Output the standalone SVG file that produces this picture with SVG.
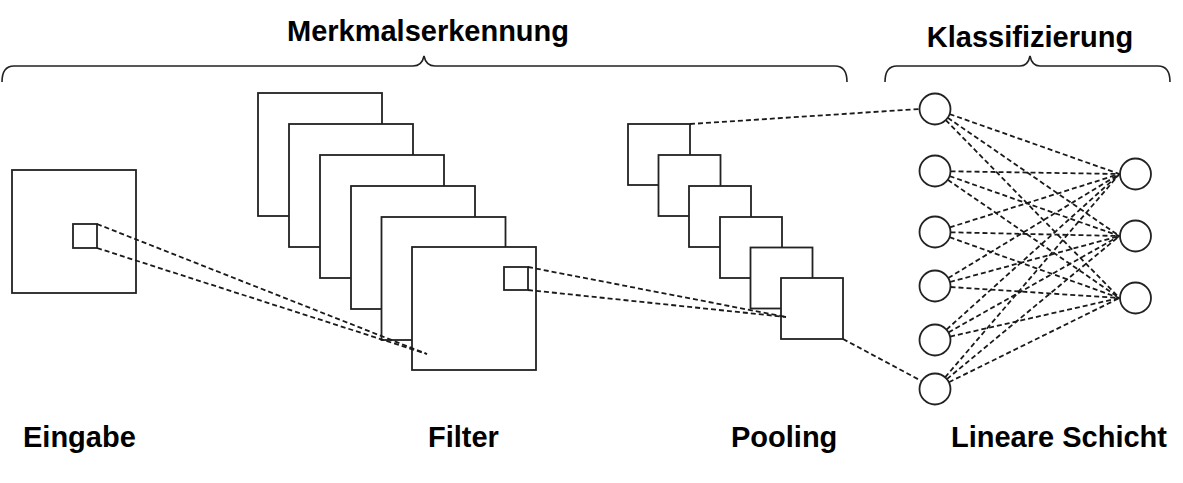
<svg xmlns="http://www.w3.org/2000/svg" width="1183" height="483" viewBox="0 0 1183 483">
<style>
  .box { fill: #ffffff; stroke: #222222; stroke-width: 1.8; }
  .node { fill: #ffffff; stroke: #222222; stroke-width: 1.8; }
  .dash { fill: none; stroke: #1a1a1a; stroke-width: 1.8; stroke-dasharray: 5 3; }
  .brace { fill: none; stroke: #222222; stroke-width: 1.6; }
  .lbl { font-family: "Liberation Sans", Arial, sans-serif; font-weight: bold; font-size: 29px; fill: #000000; }
</style>
<rect width="1183" height="483" fill="#ffffff"/>

<g id="headers">
  <text class="lbl" x="428" y="41" text-anchor="middle" font-size="29.5">Merkmalserkennung</text>
  <text class="lbl" x="1030" y="47" text-anchor="middle">Klassifizierung</text>
  <path class="brace" d="M 2,82 Q 2,66 14,66 H 413 Q 422,66 424,56 Q 426,66 435,66 H 835 Q 847,66 847,82"/>
  <path class="brace" d="M 885,82 Q 885,66 897,66 H 1020 Q 1028,66 1030,56 Q 1032,66 1040,66 H 1158 Q 1170,66 1170,82"/>
</g>

<g id="eingabe">
  <rect class="box" x="12" y="170" width="124" height="123"/>
  <rect class="box" x="73" y="224" width="24" height="24"/>
  <text class="lbl" x="23" y="447">Eingabe</text>
</g>

<g id="filter">
  <rect class="box" x="258" y="93" width="124" height="123"/>
  <rect class="box" x="289" y="124" width="124" height="123"/>
  <rect class="box" x="320" y="155" width="124" height="123"/>
  <rect class="box" x="351" y="186" width="124" height="123"/>
  <rect class="box" x="381.5" y="217" width="124" height="123"/>
  <rect class="box" x="412" y="247" width="124" height="123"/>
  <rect class="box" x="504" y="267" width="24" height="23"/>
  <text class="lbl" x="428" y="447">Filter</text>
</g>

<g id="pooling">
  <rect class="box" x="628" y="124" width="62" height="61"/>
  <rect class="box" x="658.5" y="155" width="62" height="61"/>
  <rect class="box" x="689" y="186" width="62" height="61"/>
  <rect class="box" x="720" y="217" width="62" height="61"/>
  <rect class="box" x="750.5" y="247.5" width="62" height="61"/>
  <rect class="box" x="781" y="278" width="62" height="61"/>
  <text class="lbl" x="731" y="447">Pooling</text>
</g>

<g id="connectors">
  <line class="dash" x1="97" y1="224" x2="427" y2="354"/>
  <line class="dash" x1="97" y1="248" x2="427" y2="354"/>
  <line class="dash" x1="528" y1="267" x2="786" y2="317"/>
  <line class="dash" x1="528" y1="290" x2="786" y2="317"/>
  <line class="dash" x1="690" y1="124" x2="919.5" y2="109"/>
  <line class="dash" x1="843" y1="339" x2="921.5" y2="381"/>

  <line class="dash" x1="949.6" y1="114.1" x2="1119.5" y2="174"/>
  <line class="dash" x1="947.8" y1="117.8" x2="1119.5" y2="236"/>
  <line class="dash" x1="945.8" y1="120.1" x2="1119.5" y2="298"/>

  <line class="dash" x1="950.5" y1="171.3" x2="1119.5" y2="174"/>
  <line class="dash" x1="949.6" y1="176.1" x2="1119.5" y2="236"/>
  <line class="dash" x1="947.8" y1="179.8" x2="1119.5" y2="298"/>

  <line class="dash" x1="949.8" y1="227.4" x2="1119.5" y2="174"/>
  <line class="dash" x1="950.5" y1="232.3" x2="1119.5" y2="236"/>
  <line class="dash" x1="949.6" y1="237.2" x2="1119.5" y2="298"/>

  <line class="dash" x1="948.3" y1="278" x2="1119.5" y2="174"/>
  <line class="dash" x1="950" y1="282" x2="1119.5" y2="236"/>
  <line class="dash" x1="950.5" y1="287" x2="1119.5" y2="298"/>

  <line class="dash" x1="946.5" y1="329.6" x2="1119.5" y2="174"/>
  <line class="dash" x1="948.5" y1="332.4" x2="1119.5" y2="236"/>
  <line class="dash" x1="950.1" y1="336.6" x2="1119.5" y2="298"/>

  <line class="dash" x1="945.1" y1="377.3" x2="1119.5" y2="174"/>
  <line class="dash" x1="946.9" y1="379.1" x2="1119.5" y2="236"/>
  <line class="dash" x1="948.9" y1="382.2" x2="1119.5" y2="298"/>
</g>

<g id="linear-layer">
  <circle class="node" cx="935" cy="109" r="15.5"/>
  <circle class="node" cx="935" cy="171" r="15.5"/>
  <circle class="node" cx="935" cy="232" r="15.5"/>
  <circle class="node" cx="935" cy="286" r="15.5"/>
  <circle class="node" cx="935" cy="340" r="15.5"/>
  <circle class="node" cx="935" cy="389" r="15.5"/>
  <circle class="node" cx="1135.5" cy="174" r="15.5"/>
  <circle class="node" cx="1135.5" cy="236" r="15.5"/>
  <circle class="node" cx="1135.5" cy="298" r="15.5"/>
  <text class="lbl" x="951" y="447">Lineare Schicht</text>
</g>
</svg>
